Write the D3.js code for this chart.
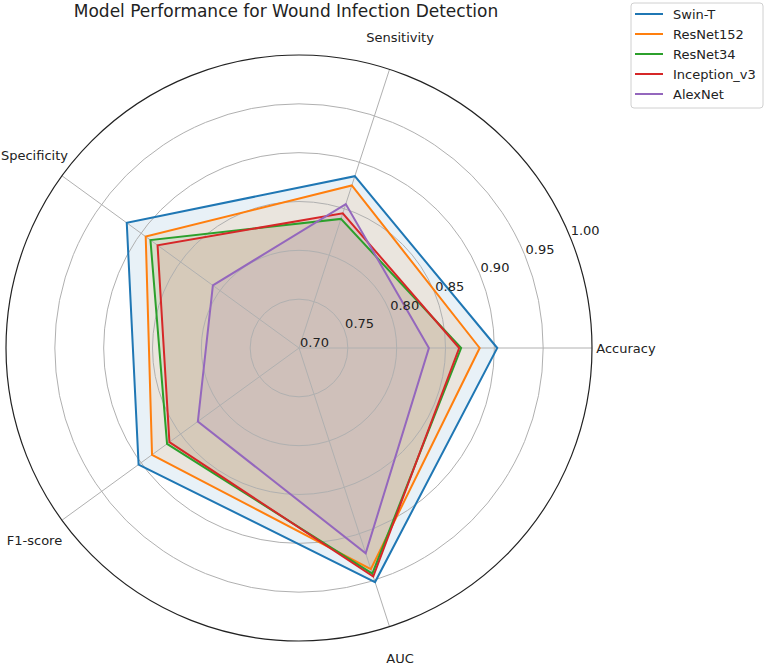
<!DOCTYPE html>
<html>
<head>
<meta charset="utf-8">
<script src="https://cdn.jsdelivr.net/npm/d3@7"></script>
<style>
  body { margin: 0; background: #fff; }
  svg { font-family: "DejaVu Sans", sans-serif; }
</style>
</head>
<body>
<div id="chart"></div>
<script>
// Kategorien (Achsen) und Werte pro Modell
const metrics = ["Accuracy", "Sensitivity", "Specificity", "F1-score", "AUC"];
const models = ["Swin-T", "ResNet152", "ResNet34", "Inception_v3", "AlexNet"];
const swinT = [0.903, 0.885, 0.918, 0.903, 0.952];
const resnet152 = [0.885, 0.875, 0.894, 0.886, 0.938];
const resnet34 = [0.866, 0.839, 0.888, 0.867, 0.943];
const inceptionV3 = [0.864, 0.845, 0.879, 0.864, 0.946];
const alexNet = [0.833, 0.855, 0.809, 0.828, 0.921];
const radialTicks = [0.70, 0.75, 0.80, 0.85, 0.90, 0.95, 1.00];
const colors = ["#1f77b4", "#ff7f0e", "#2ca02c", "#d62728", "#9467bd"];

const series = [swinT, resnet152, resnet34, inceptionV3, alexNet]
    .map((values, i) => ({ name: models[i], values, color: colors[i] }));

const width = 767, height = 666;
const cx = 299, cy = 348, outer = 293;

const svg = d3.select("#chart")
    .append("svg")
    .attr("width", width)
    .attr("height", height);

const r = d3.scaleLinear().domain([0.70, 1.00]).range([0, outer]);

// Winkel wie bei matplotlib: 0 = Osten, gegen den Uhrzeigersinn
const theta = d3.scaleLinear().domain([0, metrics.length]).range([0, 2 * Math.PI]);
const toD3Angle = i => Math.PI / 2 - theta(i);

const g = svg.append("g").attr("transform", `translate(${cx},${cy})`);

const radial = d3.lineRadial()
    .angle((d, i) => toD3Angle(i))
    .radius(d => r(d))
    .curve(d3.curveLinearClosed);

// Flächen (unter dem Gitter)
const fills = g.append("g");
series.forEach(s => {
    fills.append("path")
        .attr("d", radial(s.values))
        .attr("fill", s.color)
        .attr("fill-opacity", 0.1)
        .attr("stroke", "none");
});

// Gitter: Kreise und Speichen
const grid = g.append("g");
radialTicks.slice(1, -1).forEach(t => {
    grid.append("circle")
        .attr("r", r(t))
        .attr("fill", "none")
        .attr("stroke", "#b0b0b0")
        .attr("stroke-width", 1);
});
metrics.forEach((m, i) => {
    grid.append("line")
        .attr("x1", 0).attr("y1", 0)
        .attr("x2", outer * Math.cos(theta(i)))
        .attr("y2", -outer * Math.sin(theta(i)))
        .attr("stroke", "#b0b0b0")
        .attr("stroke-width", 1);
});

// Linien
const lines = g.append("g");
series.forEach(s => {
    lines.append("path")
        .attr("d", radial(s.values))
        .attr("fill", "none")
        .attr("stroke", s.color)
        .attr("stroke-width", 2)
        .attr("stroke-linejoin", "miter");
});

// Äußerer Rand
g.append("circle")
    .attr("r", outer)
    .attr("fill", "none")
    .attr("stroke", "#222")
    .attr("stroke-width", 1.2);

// Radiale Beschriftung bei 22.5°
const labelAngle = 22.5 * Math.PI / 180;
g.append("g")
    .selectAll("text")
    .data(radialTicks)
    .enter()
    .append("text")
    .attr("x", d => r(d) * Math.cos(labelAngle) + 1)
    .attr("y", d => -r(d) * Math.sin(labelAngle) - 1)
    .attr("font-size", "13px")
    .attr("fill", "#222")
    .text(d => d.toFixed(2));

// Achsenbeschriftungen
g.append("g")
    .selectAll("text")
    .data(metrics)
    .enter()
    .append("text")
    .attr("x", (d, i) => 327 * Math.cos(theta(i)))
    .attr("y", (d, i) => -327 * Math.sin(theta(i)))
    .attr("text-anchor", "middle")
    .attr("dominant-baseline", "central")
    .attr("font-size", "13px")
    .attr("fill", "#222")
    .text(d => d);

// Titel
svg.append("text")
    .attr("x", 286)
    .attr("y", 17)
    .attr("text-anchor", "middle")
    .attr("font-size", "17px")
    .attr("fill", "#222")
    .text("Model Performance for Wound Infection Detection");

// Legende
const legend = svg.append("g").attr("transform", "translate(631,3)");
legend.append("rect")
    .attr("width", 132)
    .attr("height", 105)
    .attr("rx", 3)
    .attr("fill", "#fff")
    .attr("fill-opacity", 0.8)
    .attr("stroke", "#d0d0d0");
const items = legend.selectAll("g.item")
    .data(series)
    .enter()
    .append("g")
    .attr("transform", (d, i) => `translate(0,${11 + i * 20})`);
items.append("line")
    .attr("x1", 4).attr("x2", 32)
    .attr("stroke", d => d.color)
    .attr("stroke-width", 2);
items.append("text")
    .attr("x", 42)
    .attr("dominant-baseline", "central")
    .attr("font-size", "13px")
    .attr("fill", "#222")
    .text(d => d.name);
</script>
</body>
</html>
